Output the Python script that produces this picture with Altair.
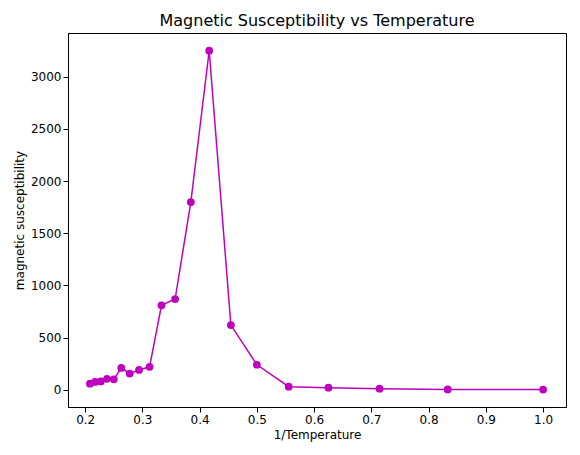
import altair as alt
import pandas as pd

temps = [4.8, 4.6, 4.4, 4.2, 4.0, 3.8, 3.6, 3.4, 3.2, 3.0, 2.8, 2.6, 2.4, 2.2, 2.0, 1.8, 1.6, 1.4, 1.2, 1.0]
chi = [58, 75, 80, 105, 100, 210, 155, 190, 220, 810, 870, 1800, 3250, 620, 240, 30, 20, 10, 3, 2]

df = pd.DataFrame({"x": [1 / t for t in temps], "y": chi})

base = alt.Chart(df).encode(
    x=alt.X("x:Q", title="1/Temperature",
            scale=alt.Scale(domain=[0.17, 1.04], nice=False, zero=False),
            axis=alt.Axis(values=[0.2, 0.3, 0.4, 0.5, 0.6, 0.7, 0.8, 0.9, 1.0], format=".1f", grid=False)),
    y=alt.Y("y:Q", title="magnetic susceptibility",
            scale=alt.Scale(domain=[-165, 3420], nice=False),
            axis=alt.Axis(values=[0, 500, 1000, 1500, 2000, 2500, 3000], format="d", grid=False)),
)
line = base.mark_line(color="#bf00bf", strokeWidth=1.5)
pts = base.mark_circle(color="#bf00bf", size=60, opacity=1)

chart = (line + pts).properties(
    width=498, height=374,
    title=alt.Title("Magnetic Susceptibility vs Temperature", fontSize=16, fontWeight="normal", font="DejaVu Sans"),
).configure_axis(
    labelFont="DejaVu Sans", titleFont="DejaVu Sans", labelFontSize=12, titleFontSize=12,
    titleFontWeight="normal", domainColor="black", tickColor="black", labelColor="black",
).configure_view(stroke="black")

chart.save("out.html", embed_options={"renderer": "svg", "actions": False})
